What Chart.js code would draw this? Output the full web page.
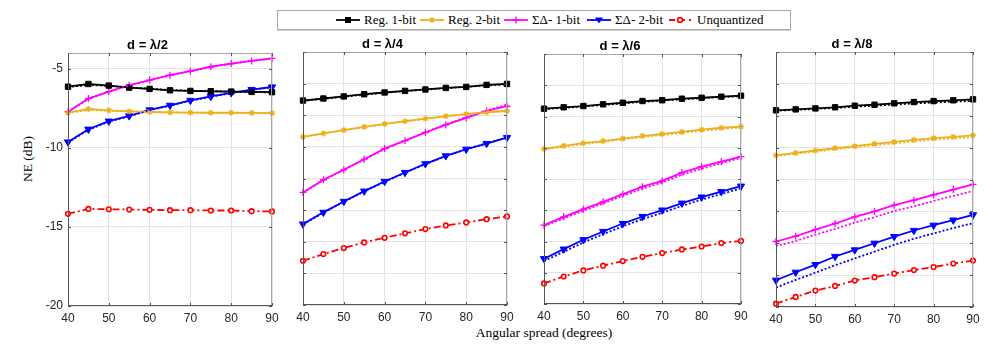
<!DOCTYPE html>
<html>
<head>
<meta charset="utf-8">
<script src="https://cdn.jsdelivr.net/npm/chart.js@4.4.1/dist/chart.umd.min.js"></script>
<style>
  body { margin: 0; background: #fff; }
  #page { position: relative; width: 997px; height: 346px; overflow: hidden; }
  .panel { position: absolute; }
  #legend {
    position: absolute; left: 277px; top: 10px; width: 512px; height: 18px;
    border: 1px solid #a8a8a8; box-shadow: 0 1px 0 #d0d0d0;
    font-family: "Liberation Serif", "DejaVu Serif", serif; font-size: 13px; color: #000;
  }
  .item { position: absolute; top: 0; height: 18px; line-height: 18px; white-space: nowrap; }
  .item svg { position: absolute; top: 3px; left: 0; }
  .item span { position: absolute; top: 0; }
  #xlabel {
    position: absolute; left: 444px; top: 325px; width: 200px; text-align: center;
    font-family: "Liberation Serif", "DejaVu Serif", serif; font-size: 13.5px;
  }
  #ylabel {
    position: absolute; left: -22px; top: 151px; width: 100px; text-align: center;
    transform: rotate(-90deg);
    font-family: "Liberation Serif", "DejaVu Serif", serif; font-size: 13.5px;
  }
</style>
</head>
<body>
<div id="page">
  <div id="legend"></div>
  <div id="xlabel">Angular spread (degrees)</div>
  <div id="ylabel">NE (dB)</div>
</div>
<script>
// angular spread samples (degrees)
var angles = [40, 45, 50, 55, 60, 65, 70, 75, 80, 85, 90];
var spacings = ['λ/2', 'λ/4', 'λ/6', 'λ/8'];
var seriesNames = ['Reg. 1-bit', 'Reg. 2-bit', 'ΣΔ- 1-bit', 'ΣΔ- 2-bit', 'Unquantized'];
var xTicks = [40, 50, 60, 70, 80, 90];
var yTicksLabeled = [-20, -15, -10, -5];
var yTicksGrid = [-20, -18, -16, -14, -12, -10, -8, -6, -4];

// d = lambda/2   (sim = solid w/ markers, th = dotted)
var l2Reg1Sim = [-6.13, -5.96, -6.06, -6.19, -6.27, -6.36, -6.40, -6.42, -6.44, -6.46, -6.48];
var l2Reg1Th  = [-6.15, -6.02, -6.08, -6.18, -6.26, -6.34, -6.39, -6.42, -6.45, -6.47, -6.49];
var l2Reg2Sim = [-7.77, -7.54, -7.63, -7.69, -7.73, -7.76, -7.77, -7.78, -7.78, -7.79, -7.80];
var l2Reg2Th  = [-7.80, -7.60, -7.66, -7.70, -7.74, -7.76, -7.77, -7.78, -7.79, -7.79, -7.80];
var l2Sd1Sim  = [-7.71, -6.88, -6.44, -6.04, -5.71, -5.40, -5.15, -4.87, -4.67, -4.50, -4.34];
var l2Sd1Th   = [-7.73, -6.90, -6.45, -6.05, -5.72, -5.41, -5.15, -4.88, -4.67, -4.50, -4.35];
var l2Sd2Sim  = [-9.63, -8.82, -8.31, -7.98, -7.60, -7.31, -7.00, -6.75, -6.52, -6.31, -6.15];
var l2Sd2Th   = [-9.66, -8.86, -8.34, -8.00, -7.62, -7.33, -7.02, -6.77, -6.54, -6.33, -6.17];
var l2Unq     = [-14.17, -13.86, -13.88, -13.90, -13.92, -13.94, -13.94, -13.96, -13.96, -14.00, -14.02];

// d = lambda/4
var l4Reg1Sim = [-7.07, -6.94, -6.81, -6.67, -6.56, -6.46, -6.37, -6.27, -6.21, -6.08, -6.02];
var l4Reg1Th  = [-7.09, -6.96, -6.83, -6.70, -6.58, -6.48, -6.38, -6.29, -6.20, -6.12, -6.05];
var l4Reg2Sim = [-9.37, -9.15, -8.94, -8.74, -8.55, -8.38, -8.21, -8.06, -7.93, -7.81, -7.73];
var l4Reg2Th  = [-9.38, -9.16, -8.95, -8.75, -8.56, -8.39, -8.22, -8.07, -7.93, -7.81, -7.70];
var l4Sd1Sim  = [-12.88, -12.08, -11.45, -10.78, -10.10, -9.60, -9.09, -8.61, -8.17, -7.73, -7.43];
var l4Sd1Th   = [-12.90, -12.10, -11.45, -10.80, -10.15, -9.60, -9.07, -8.58, -8.12, -7.70, -7.33];
var l4Sd2Sim  = [-14.88, -14.14, -13.45, -12.80, -12.19, -11.62, -11.07, -10.57, -10.15, -9.79, -9.41];
var l4Sd2Th   = [-14.90, -14.16, -13.47, -12.82, -12.21, -11.64, -11.09, -10.59, -10.15, -9.77, -9.40];
var l4Unq     = [-17.20, -16.78, -16.40, -16.04, -15.75, -15.47, -15.20, -14.97, -14.78, -14.57, -14.40];

// d = lambda/6
var l6Reg1Sim = [-7.50, -7.41, -7.33, -7.22, -7.12, -7.01, -6.96, -6.86, -6.80, -6.73, -6.67];
var l6Reg1Th  = [-7.53, -7.44, -7.36, -7.26, -7.16, -7.06, -6.98, -6.90, -6.83, -6.76, -6.70];
var l6Reg2Sim = [-10.08, -9.88, -9.71, -9.57, -9.42, -9.25, -9.12, -8.99, -8.84, -8.72, -8.65];
var l6Reg2Th  = [-10.12, -9.93, -9.76, -9.62, -9.47, -9.31, -9.18, -9.05, -8.92, -8.80, -8.70];
var l6Sd1Sim  = [-14.95, -14.42, -13.93, -13.46, -12.97, -12.49, -12.12, -11.59, -11.21, -10.89, -10.57];
var l6Sd1Th   = [-15.02, -14.52, -14.03, -13.56, -13.08, -12.62, -12.22, -11.73, -11.34, -10.99, -10.65];
var l6Sd2Sim  = [-17.10, -16.49, -15.89, -15.36, -14.85, -14.40, -13.99, -13.55, -13.16, -12.81, -12.46];
var l6Sd2Th   = [-17.25, -16.66, -16.06, -15.53, -15.03, -14.57, -14.16, -13.72, -13.32, -12.96, -12.60];
var l6Unq     = [-18.68, -18.24, -17.85, -17.55, -17.25, -16.98, -16.74, -16.51, -16.32, -16.10, -15.96];

// d = lambda/8
var l8Reg1Sim = [-7.66, -7.60, -7.54, -7.47, -7.37, -7.31, -7.22, -7.14, -7.08, -7.03, -6.97];
var l8Reg1Th  = [-7.68, -7.63, -7.57, -7.51, -7.43, -7.37, -7.30, -7.23, -7.17, -7.12, -7.07];
var l8Reg2Sim = [-10.49, -10.33, -10.18, -10.03, -9.91, -9.76, -9.64, -9.51, -9.40, -9.32, -9.23];
var l8Reg2Th  = [-10.53, -10.38, -10.24, -10.10, -9.98, -9.85, -9.73, -9.61, -9.50, -9.42, -9.35];
var l8Sd1Sim  = [-15.89, -15.56, -15.14, -14.76, -14.35, -14.00, -13.61, -13.30, -12.96, -12.63, -12.31];
var l8Sd1Th   = [-16.17, -15.86, -15.46, -15.10, -14.70, -14.36, -13.98, -13.68, -13.35, -13.03, -12.73];
var l8Sd2Sim  = [-18.32, -17.82, -17.34, -16.83, -16.42, -16.00, -15.58, -15.20, -14.87, -14.55, -14.22];
var l8Sd2Th   = [-18.78, -18.30, -17.85, -17.38, -16.95, -16.53, -16.10, -15.72, -15.38, -15.05, -14.74];
var l8Unq     = [-19.79, -19.37, -18.97, -18.68, -18.34, -18.13, -17.90, -17.68, -17.49, -17.27, -17.09];

var panelData = [
    [l2Reg1Sim, l2Reg1Th, l2Reg2Sim, l2Reg2Th, l2Sd1Sim, l2Sd1Th, l2Sd2Sim, l2Sd2Th, l2Unq],
    [l4Reg1Sim, l4Reg1Th, l4Reg2Sim, l4Reg2Th, l4Sd1Sim, l4Sd1Th, l4Sd2Sim, l4Sd2Th, l4Unq],
    [l6Reg1Sim, l6Reg1Th, l6Reg2Sim, l6Reg2Th, l6Sd1Sim, l6Sd1Th, l6Sd2Sim, l6Sd2Th, l6Unq],
    [l8Reg1Sim, l8Reg1Th, l8Reg2Sim, l8Reg2Th, l8Sd1Sim, l8Sd1Th, l8Sd2Sim, l8Sd2Th, l8Unq]
];

// plot area of each subplot on the page (left, top, right, bottom)
var boxes = [
    [68, 53, 272, 306],
    [303, 52, 507, 305],
    [544, 54, 741, 304],
    [776, 52, 973, 307]
];

var colors = ['#000000', '#EDB120', '#FF00FF', '#0000FF', '#FF0000'];
var markers = [
    { style: 'rect', radius: 3.8, rotation: 0, fill: '#000000', width: 1 },
    { style: 'star', radius: 3, rotation: 0, fill: '#EDB120', width: 1.3 },
    { style: 'cross', radius: 3.5, rotation: 0, fill: '#FF00FF', width: 1.3 },
    { style: 'triangle', radius: 4.2, rotation: 180, fill: '#0000FF', width: 1 },
    { style: 'circle', radius: 2.3, rotation: 0, fill: '#FFFFFF', width: 1.6 }
];

var tickFont = { family: '"Liberation Sans", Arial, sans-serif', size: 12 };

function pts(arr) {
    return arr.map(function(v, i) { return { x: angles[i], y: v }; });
}

// MATLAB style box with inward ticks
var framePlugin = {
    id: 'frame',
    afterDraw: function(chart) {
        var a = chart.chartArea, ctx = chart.ctx;
        var xs = chart.scales.x, ys = chart.scales.y;
        ctx.save();
        ctx.lineWidth = 1;
        ctx.strokeStyle = '#a6a6a6';
        ctx.beginPath();
        ctx.moveTo(a.left, a.top + 0.5); ctx.lineTo(a.right, a.top + 0.5);
        ctx.moveTo(a.right - 0.5, a.top); ctx.lineTo(a.right - 0.5, a.bottom);
        ctx.stroke();
        ctx.strokeStyle = '#555555';
        ctx.beginPath();
        ctx.moveTo(a.left + 0.5, a.top); ctx.lineTo(a.left + 0.5, a.bottom);
        ctx.moveTo(a.left, a.bottom - 0.5); ctx.lineTo(a.right, a.bottom - 0.5);
        xs.ticks.forEach(function(t) {
            var px = Math.round(xs.getPixelForValue(t.value)) + 0.5;
            ctx.moveTo(px, a.bottom); ctx.lineTo(px, a.bottom - 3);
            ctx.moveTo(px, a.top); ctx.lineTo(px, a.top + 3);
        });
        ys.ticks.forEach(function(t) {
            var py = Math.round(ys.getPixelForValue(t.value)) + 0.5;
            ctx.moveTo(a.left, py); ctx.lineTo(a.left + 3, py);
            ctx.moveTo(a.right, py); ctx.lineTo(a.right - 3, py);
        });
        ctx.stroke();
        ctx.restore();
    }
};

var page = document.getElementById('page');

boxes.forEach(function(b, p) {
    var L = b[0], T = b[1], R = b[2], B = b[3];
    var top = 20;
    var wrap = document.createElement('div');
    wrap.className = 'panel';
    wrap.style.left = (L - 45) + 'px';
    wrap.style.top = top + 'px';
    wrap.style.width = (R - L + 45 + 15) + 'px';
    wrap.style.height = (B - top + 25) + 'px';
    var canvas = document.createElement('canvas');
    wrap.appendChild(canvas);
    page.appendChild(wrap);

    var d = panelData[p];
    var datasets = [];
    for (var s = 0; s < 4; s++) {
        datasets.push({
            label: seriesNames[s],
            data: pts(d[2 * s]),
            borderColor: colors[s],
            backgroundColor: markers[s].fill,
            borderWidth: 1.8,
            pointStyle: markers[s].style,
            pointRadius: markers[s].radius,
            pointRotation: markers[s].rotation,
            pointBorderWidth: markers[s].width,
            pointBackgroundColor: markers[s].fill,
            pointBorderColor: colors[s],
            clip: false,
            order: 10 + s
        });
        datasets.push({
            label: seriesNames[s] + ' (theory)',
            data: pts(d[2 * s + 1]),
            borderColor: colors[s],
            borderWidth: 1.8,
            borderDash: [2, 2],
            pointRadius: 0,
            clip: false,
            order: s
        });
    }
    datasets.push({
        label: seriesNames[4],
        data: pts(d[8]),
        borderColor: colors[4],
        backgroundColor: '#FFFFFF',
        borderWidth: 1.8,
        borderDash: [7, 3, 2, 3],
        pointStyle: markers[4].style,
        pointRadius: markers[4].radius,
        pointBorderWidth: markers[4].width,
        pointBackgroundColor: '#FFFFFF',
        pointBorderColor: colors[4],
        clip: false,
        order: 20
    });

    new Chart(canvas.getContext('2d'), {
        type: 'line',
        data: { datasets: datasets },
        options: {
            responsive: true,
            maintainAspectRatio: false,
            animation: false,
            events: [],
            layout: { padding: { left: 0, right: 15, top: 0, bottom: 0 } },
            plugins: {
                legend: { display: false },
                tooltip: { enabled: false },
                title: {
                    display: true,
                    text: 'd = ' + spacings[p],
                    color: '#000',
                    font: { family: '"Liberation Sans", Arial, sans-serif', size: 13, weight: 'bold', lineHeight: 1.2 },
                    padding: { top: T - top - 15.6, bottom: 0 }
                }
            },
            scales: {
                x: {
                    type: 'linear',
                    min: 40,
                    max: 90,
                    afterBuildTicks: function(sc) { sc.ticks = xTicks.map(function(v) { return { value: v }; }); },
                    afterFit: function(sc) { sc.height = 25; },
                    border: { display: false },
                    grid: { color: '#e3e3e3', drawTicks: false },
                    ticks: { color: '#262626', font: tickFont, padding: 5, maxRotation: 0 }
                },
                y: {
                    type: 'linear',
                    min: -20,
                    max: -4,
                    afterBuildTicks: function(sc) {
                        var arr = p === 0 ? yTicksLabeled : yTicksGrid;
                        sc.ticks = arr.map(function(v) { return { value: v }; });
                    },
                    afterFit: function(sc) { sc.width = 45; },
                    border: { display: false },
                    grid: { color: '#e3e3e3', drawTicks: false },
                    ticks: { display: p === 0, color: '#262626', font: tickFont, padding: 5 }
                }
            }
        },
        plugins: [framePlugin]
    });
});

// legend row (HTML, symbols as small svg)
var legendX = [58, 142, 226, 309, 391];
var legendW = [24, 24, 24, 24, 22];
var legend = document.getElementById('legend');
seriesNames.forEach(function(name, i) {
    var c = colors[i];
    var w = legendW[i];
    var mid = w / 2;
    var sym;
    if (i === 0) sym = '<rect x="' + (mid - 3) + '" y="3" width="6" height="6" fill="#000"/>';
    else if (i === 1) sym = '<path d="M' + (mid - 3) + ' 6 H' + (mid + 3) + ' M' + mid + ' 3 V9 M' + (mid - 2.2) + ' 3.8 L' + (mid + 2.2) + ' 8.2 M' + (mid + 2.2) + ' 3.8 L' + (mid - 2.2) + ' 8.2" stroke="' + c + '" stroke-width="1.2"/>';
    else if (i === 2) sym = '<path d="M' + (mid - 3.5) + ' 6 H' + (mid + 3.5) + ' M' + mid + ' 2.5 V9.5" stroke="' + c + '" stroke-width="1.4"/>';
    else if (i === 3) sym = '<path d="M' + (mid - 4) + ' 3.5 L' + (mid + 4) + ' 3.5 L' + mid + ' 9.5 Z" fill="' + c + '"/>';
    else sym = '<circle cx="' + mid + '" cy="6" r="2.4" fill="#fff" stroke="' + c + '" stroke-width="1.6"/>';
    var dash = i === 4 ? ' stroke-dasharray="6 4"' : '';
    var html = '<svg width="' + w + '" height="12"><line x1="0" y1="6" x2="' + w + '" y2="6" stroke="' + c + '" stroke-width="1.8"' + dash + '/>' + sym + '</svg>' +
        '<span style="left:' + (w + 4 + (i === 4 ? 2 : 0)) + 'px">' + name + '</span>';
    var div = document.createElement('div');
    div.className = 'item';
    div.style.left = legendX[i] + 'px';
    div.innerHTML = html;
    legend.appendChild(div);
});
</script>
</body>
</html>
